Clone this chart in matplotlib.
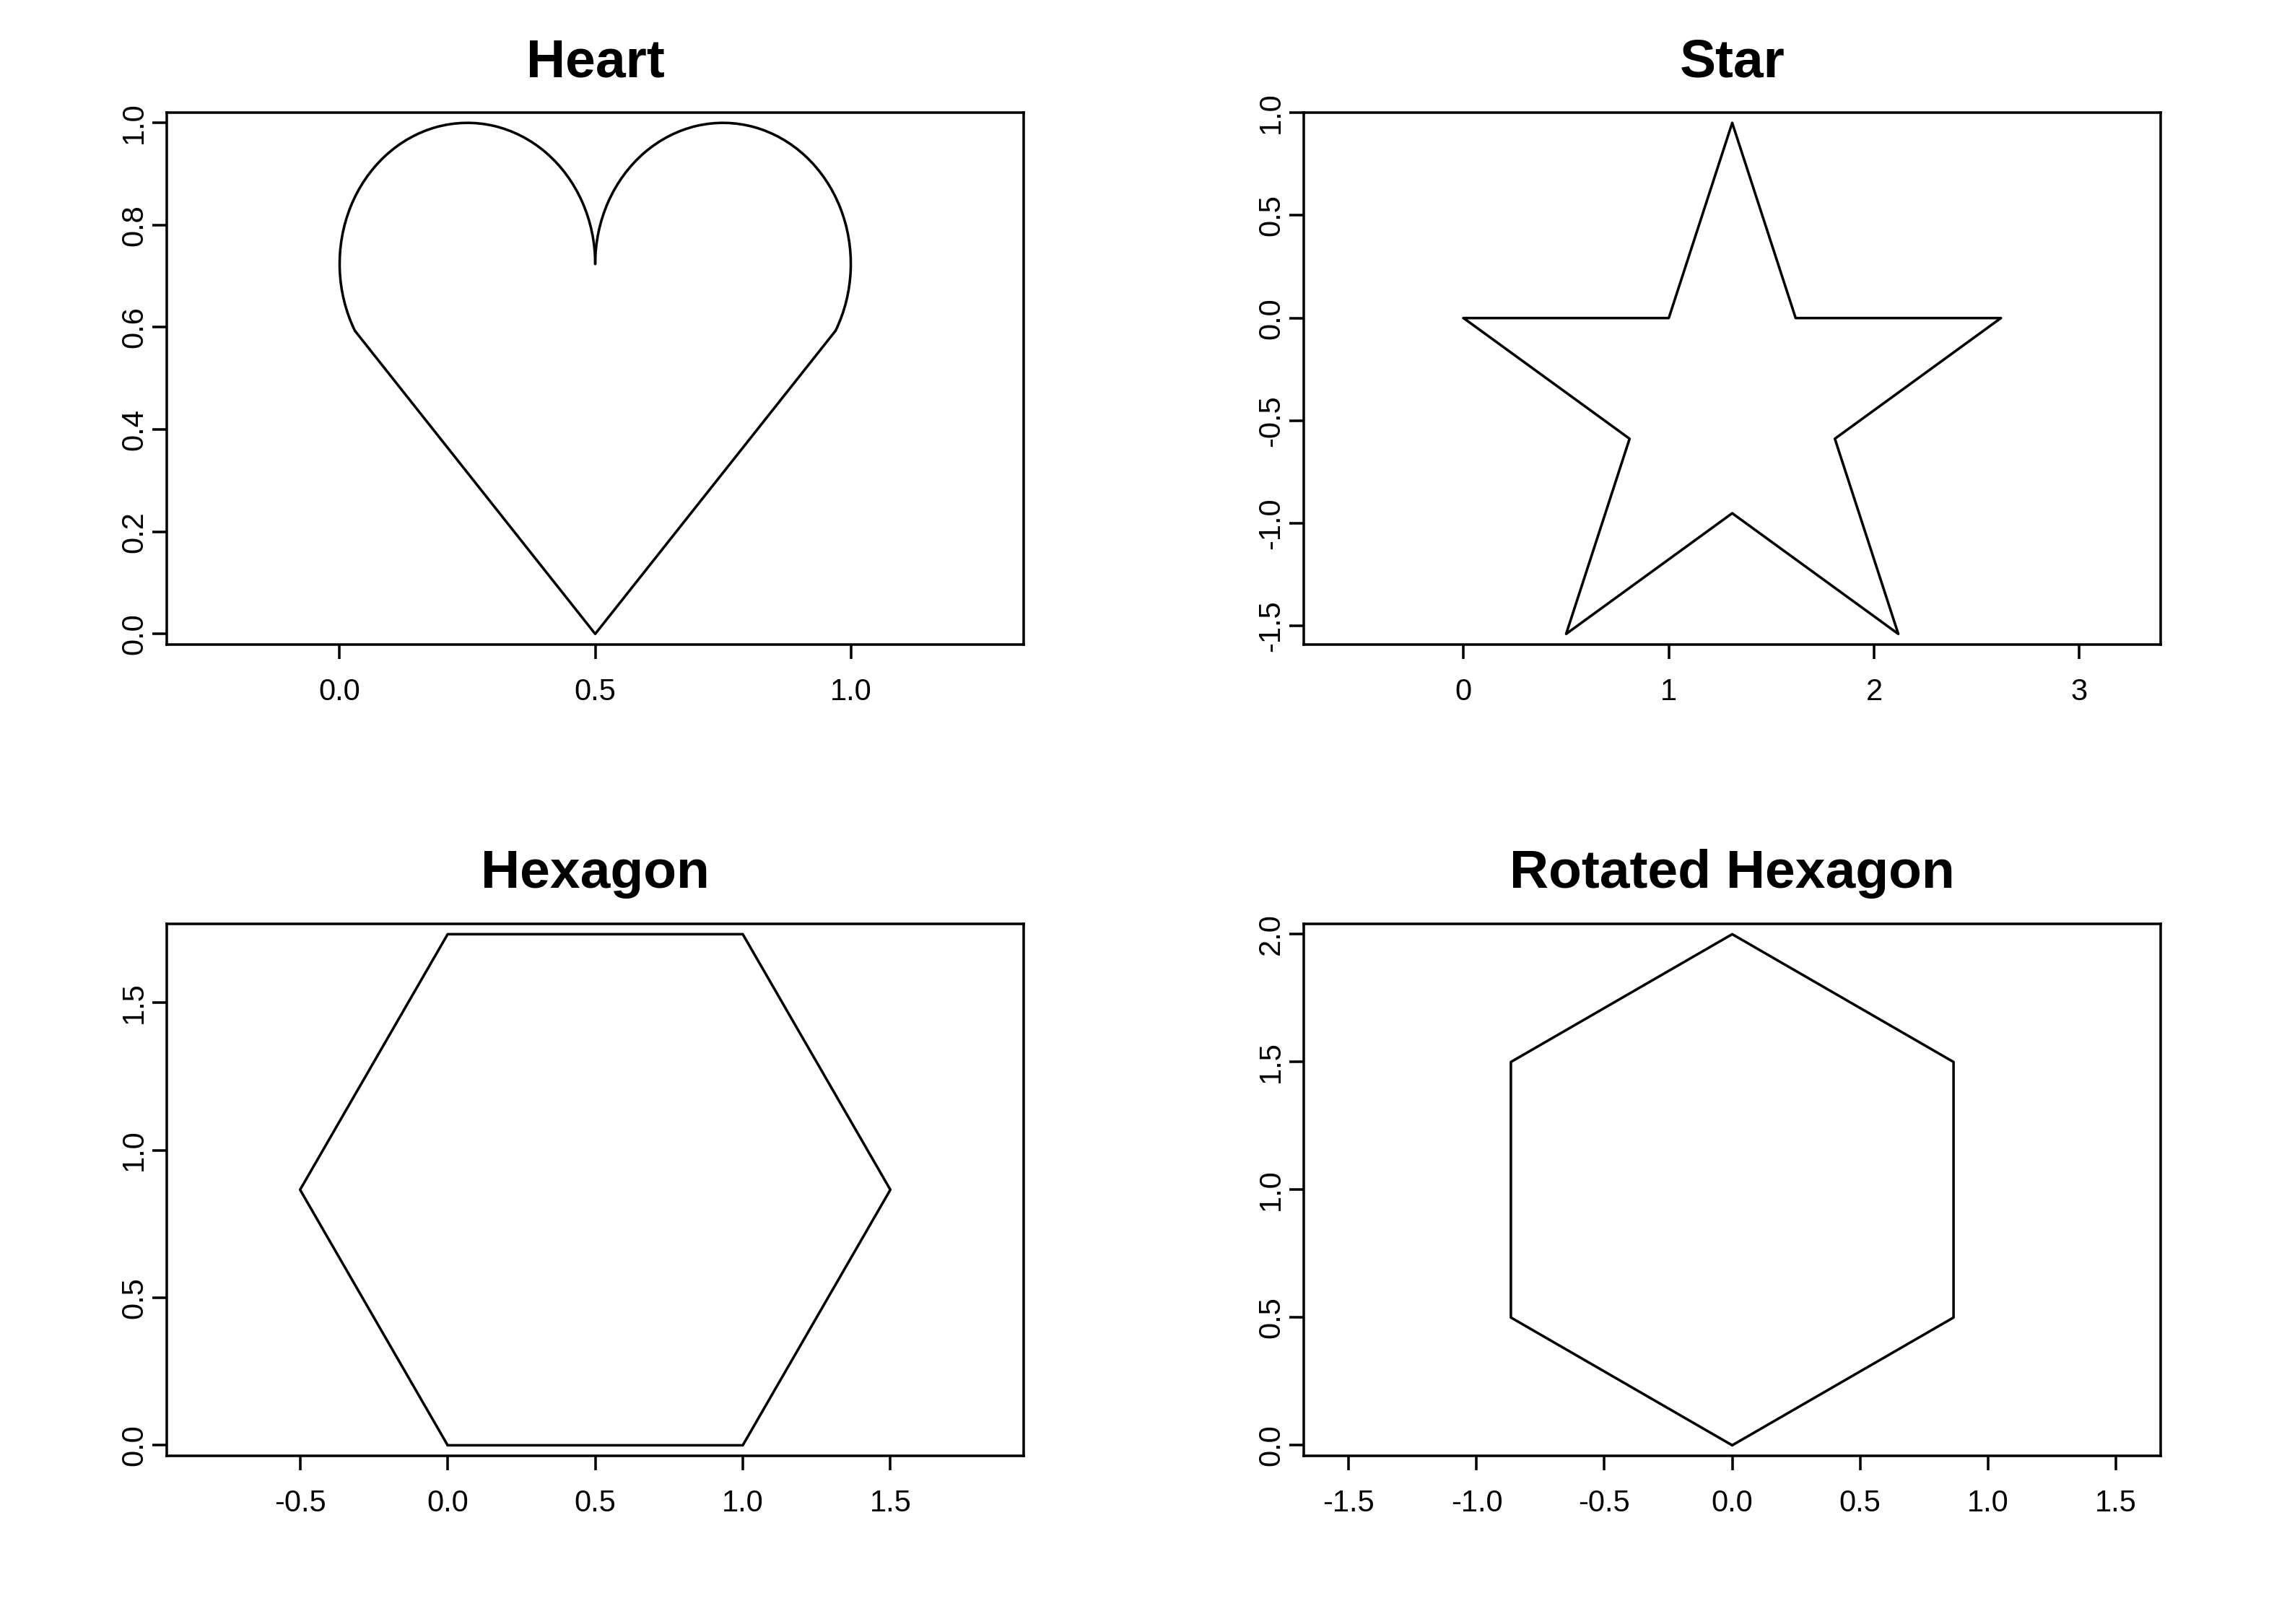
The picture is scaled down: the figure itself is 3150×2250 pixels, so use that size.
import matplotlib
matplotlib.use("Agg")
from matplotlib import pyplot as plt
from matplotlib.patches import Arc

plt.rcParams['font.family'] = ['Liberation Sans', 'DejaVu Sans']

# heart: two elliptical lobes on top of a V
heart_lobe_x = [0.25, 0.75]
heart_lobe_y = 0.724
heart_lobe_w = 0.5
heart_lobe_h = 0.552
heart_lobe_from = [0.0, -30.7]
heart_lobe_to = [210.7, 180.0]
heart_v_x = [0.030, 0.5, 0.970]
heart_v_y = [0.593, 0.0, 0.593]

star_x = [0, 1, 1.309, 1.618, 2.618, 1.809, 2.118, 1.309, 0.5, 0.809, 0]
star_y = [0, 0, 0.951, 0, 0, -0.588, -1.539, -0.951, -1.539, -0.588, 0]

hex_x = [0, 1, 1.5, 1, 0, -0.5, 0]
hex_y = [0, 0, 0.866, 1.732, 1.732, 0.866, 0]

rhex_x = [0, 0.866, 0.866, 0, -0.866, -0.866, 0]
rhex_y = [0, 0.5, 1.5, 2, 1.5, 0.5, 0]

titles = ["Heart", "Star", "Hexagon", "Rotated Hexagon"]

heart_xticks = [0.0, 0.5, 1.0]
heart_xlabels = ["0.0", "0.5", "1.0"]
heart_yticks = [0.0, 0.2, 0.4, 0.6, 0.8, 1.0]
heart_ylabels = ["0.0", "0.2", "0.4", "0.6", "0.8", "1.0"]

star_xticks = [0, 1, 2, 3]
star_xlabels = ["0", "1", "2", "3"]
star_yticks = [-1.5, -1.0, -0.5, 0.0, 0.5, 1.0]
star_ylabels = ["-1.5", "-1.0", "-0.5", "0.0", "0.5", "1.0"]

hex_xticks = [-0.5, 0.0, 0.5, 1.0, 1.5]
hex_xlabels = ["-0.5", "0.0", "0.5", "1.0", "1.5"]
hex_yticks = [0.0, 0.5, 1.0, 1.5]
hex_ylabels = ["0.0", "0.5", "1.0", "1.5"]

rhex_xticks = [-1.5, -1.0, -0.5, 0.0, 0.5, 1.0, 1.5]
rhex_xlabels = ["-1.5", "-1.0", "-0.5", "0.0", "0.5", "1.0", "1.5"]
rhex_yticks = [0.0, 0.5, 1.0, 1.5, 2.0]
rhex_ylabels = ["0.0", "0.5", "1.0", "1.5", "2.0"]

fig_w, fig_h = 10.5, 7.5
ax_w, ax_h = 0.3769, 0.3276
lefts = [0.0733, 0.5733]
bottoms = [0.6032, 0.1036]
lw = 0.85

fig = plt.figure(figsize=(fig_w, fig_h), dpi=300)


def make_axes(col, row, title, xs, ys, xticks, xlabels, yticks, ylabels):
    ax = fig.add_axes([lefts[col], bottoms[row], ax_w, ax_h])
    # equal scale, y range padded, x range follows the box shape
    yc = (min(ys) + max(ys)) / 2
    xc = (min(xs) + max(xs)) / 2
    yh = (max(ys) - min(ys)) * 1.041 / 2
    xh = yh * (ax_w * fig_w) / (ax_h * fig_h)
    ax.set_xlim(xc - xh, xc + xh)
    ax.set_ylim(yc - yh, yc + yh)
    ax.set_xticks(xticks)
    ax.set_xticklabels(xlabels)
    ax.set_yticks(yticks)
    ax.set_yticklabels(ylabels, rotation=90, va='center')
    ax.tick_params(axis='both', length=4.7, width=lw, labelsize=10, color='black')
    ax.tick_params(axis='x', pad=6.3)
    ax.tick_params(axis='y', pad=1.3)
    for s in ax.spines.values():
        s.set_linewidth(lw)
    ax.set_title(title, fontsize=18, fontweight='bold', pad=11.9)
    return ax


line_kw = dict(color='black', linewidth=lw, solid_joinstyle='round', solid_capstyle='round')

# Heart
ax = make_axes(0, 0, titles[0], [0, 1], [0, 1], heart_xticks, heart_xlabels, heart_yticks, heart_ylabels)
for cx, t1, t2 in zip(heart_lobe_x, heart_lobe_from, heart_lobe_to):
    ax.add_patch(Arc((cx, heart_lobe_y), heart_lobe_w, heart_lobe_h, theta1=t1, theta2=t2,
                     color='black', linewidth=lw, capstyle='round'))
ax.plot(heart_v_x, heart_v_y, **line_kw)

# Star
ax = make_axes(1, 0, titles[1], star_x, star_y, star_xticks, star_xlabels, star_yticks, star_ylabels)
ax.plot(star_x, star_y, **line_kw)

# Hexagon
ax = make_axes(0, 1, titles[2], hex_x, hex_y, hex_xticks, hex_xlabels, hex_yticks, hex_ylabels)
ax.plot(hex_x, hex_y, **line_kw)

# Rotated Hexagon
ax = make_axes(1, 1, titles[3], rhex_x, rhex_y, rhex_xticks, rhex_xlabels, rhex_yticks, rhex_ylabels)
ax.plot(rhex_x, rhex_y, **line_kw)

plt.savefig("out.png", dpi=300)
plt.close()
